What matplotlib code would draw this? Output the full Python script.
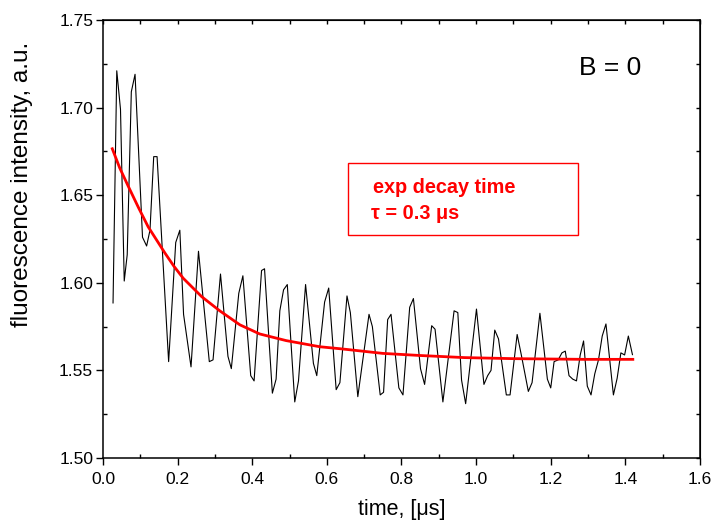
import matplotlib
matplotlib.use("Agg")
import matplotlib.pyplot as plt
from matplotlib.patches import Rectangle
from matplotlib.ticker import MultipleLocator, FormatStrFormatter

plt.rcParams['font.family'] = ['Liberation Sans', 'DejaVu Sans']

# measured signal (time in microseconds, intensity in a.u.)
time_us = [
    0.027, 0.037, 0.047, 0.057, 0.065, 0.076, 0.086, 0.106, 0.117, 0.126,
    0.136, 0.145, 0.176, 0.195, 0.206, 0.216, 0.236, 0.256, 0.285, 0.295,
    0.315, 0.335, 0.344, 0.364, 0.375, 0.396, 0.405, 0.425, 0.433, 0.454,
    0.464, 0.474, 0.484, 0.494, 0.514, 0.524, 0.543, 0.564, 0.573, 0.594,
    0.605, 0.625, 0.635, 0.654, 0.663, 0.683, 0.713, 0.722, 0.743, 0.752,
    0.763, 0.772, 0.793, 0.804, 0.822, 0.832, 0.851, 0.862, 0.881, 0.890,
    0.911, 0.941, 0.951, 0.961, 0.972, 1.001, 1.021, 1.031, 1.040, 1.050,
    1.060, 1.081, 1.091, 1.110, 1.121, 1.140, 1.150, 1.171, 1.191, 1.200,
    1.209, 1.220, 1.230, 1.239, 1.249, 1.259, 1.269, 1.279, 1.288, 1.298,
    1.308, 1.318, 1.328, 1.338, 1.348, 1.368, 1.378, 1.388, 1.398, 1.408,
    1.419,
]
intensity = [
    1.5885, 1.721, 1.699, 1.601, 1.616, 1.709, 1.719, 1.626, 1.621, 1.630,
    1.672, 1.672, 1.555, 1.623, 1.630, 1.582, 1.552, 1.618, 1.555, 1.556,
    1.605, 1.558, 1.551, 1.594, 1.604, 1.547, 1.544, 1.607, 1.608, 1.537,
    1.545, 1.584, 1.596, 1.599, 1.532, 1.544, 1.599, 1.554, 1.547, 1.589,
    1.597, 1.539, 1.543, 1.5925, 1.583, 1.535, 1.582, 1.575, 1.536, 1.5375,
    1.579, 1.582, 1.540, 1.536, 1.586, 1.591, 1.551, 1.542, 1.5755, 1.5735,
    1.532, 1.584, 1.583, 1.5445, 1.531, 1.585, 1.542, 1.547, 1.550, 1.573,
    1.568, 1.536, 1.536, 1.5705, 1.559, 1.538, 1.543, 1.5826, 1.545, 1.540,
    1.555, 1.556, 1.560, 1.561, 1.547, 1.545, 1.544, 1.5588, 1.5668, 1.541,
    1.536, 1.548, 1.556, 1.5696, 1.5765, 1.536, 1.5455, 1.560, 1.5588, 1.5696,
    1.559,
]

# exponential decay fit
fit_time = [0.025, 0.045, 0.068, 0.095, 0.121, 0.145, 0.166, 0.19, 0.215,
            0.265, 0.313, 0.367, 0.42, 0.491, 0.581, 0.643, 0.75, 0.85,
            0.969, 1.1, 1.29, 1.42]
fit_value = [1.6765, 1.6655, 1.655, 1.643, 1.632, 1.624, 1.617, 1.6095,
             1.6026, 1.592, 1.584, 1.576, 1.5708, 1.567, 1.5635, 1.5622,
             1.5597, 1.5585, 1.5573, 1.5567, 1.5563, 1.5563]

fig = plt.figure(figsize=(7.15, 5.23), dpi=100)
ax = fig.add_axes([0.144, 0.1243, 0.835, 0.8375])

ax.plot(time_us, intensity, color='black', linewidth=0.8)
ax.plot(fit_time, fit_value, color='red', linewidth=2.0)

ax.set_xlim(0.0, 1.6)
ax.set_ylim(1.50, 1.75)
ax.xaxis.set_major_locator(MultipleLocator(0.2))
ax.xaxis.set_minor_locator(MultipleLocator(0.1))
ax.yaxis.set_major_locator(MultipleLocator(0.05))
ax.yaxis.set_minor_locator(MultipleLocator(0.025))
ax.xaxis.set_major_formatter(FormatStrFormatter('%.1f'))
ax.yaxis.set_major_formatter(FormatStrFormatter('%.2f'))
ax.tick_params(which='major', direction='out', length=5, width=1, labelsize=12.5)
ax.tick_params(axis='x', which='major', pad=5)
ax.tick_params(axis='y', which='major', pad=2)
ax.tick_params(which='minor', direction='in', length=3, width=1)
for sp in ax.spines.values():
    sp.set_linewidth(1.1)

# inward ticks on the right and top frame
right = ax.secondary_yaxis('right')
right.yaxis.set_major_locator(MultipleLocator(0.025))
right.tick_params(direction='in', length=3, width=1, labelright=False)
top = ax.secondary_xaxis('top')
top.xaxis.set_major_locator(MultipleLocator(0.1))
top.tick_params(direction='in', length=3, width=1, labeltop=False)

ax.set_xlabel('time, [μs]', fontsize=15.5, labelpad=9)
ax.set_ylabel('fluorescence intensity, a.u.', fontsize=17.5)
ax.yaxis.set_label_coords(-0.117, 0.625)

ax.text(0.849, 0.89, 'B = 0', transform=ax.transAxes, fontsize=19,
        ha='center', va='center')

ax.add_patch(Rectangle((0.41, 0.509), 0.386, 0.1645, transform=ax.transAxes,
                       fill=False, edgecolor='red', linewidth=1.0))
ax.text(0.452, 0.604, 'exp decay time', transform=ax.transAxes, color='red',
        fontsize=14.3, fontweight='bold', va='baseline')
ax.text(0.449, 0.546, 'τ = 0.3 μs', transform=ax.transAxes, color='red',
        fontsize=14.3, fontweight='bold', va='baseline')

fig.savefig('out.png', dpi=100)
